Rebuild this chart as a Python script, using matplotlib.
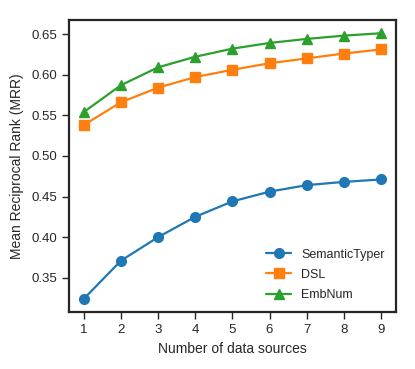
import matplotlib
matplotlib.use("Agg")
import matplotlib.pyplot as plt
import seaborn as sns

n_sources = [1, 2, 3, 4, 5, 6, 7, 8, 9]
semantic_typer = [0.324, 0.371, 0.400, 0.425, 0.444, 0.456, 0.464, 0.468, 0.471]
dsl = [0.538, 0.566, 0.584, 0.597, 0.606, 0.614, 0.620, 0.626, 0.631]
embnum = [0.554, 0.587, 0.609, 0.622, 0.632, 0.639, 0.644, 0.648, 0.651]

sns.set_style("ticks")
plt.rcParams["font.family"] = ["Liberation Sans", "DejaVu Sans"]

fig, ax = plt.subplots(figsize=(4.15, 3.69), dpi=100)
ax.plot(n_sources, semantic_typer, "o-", color="#1f77b4", markersize=7, linewidth=1.6, label="SemanticTyper")
ax.plot(n_sources, dsl, "s-", color="#ff7f0e", markersize=7, linewidth=1.6, label="DSL")
ax.plot(n_sources, embnum, "^-", color="#2ca02c", markersize=7, linewidth=1.6, label="EmbNum")

ax.set_xticks(n_sources)
ax.set_xlabel("Number of data sources", fontsize=10)
ax.set_ylabel("Mean Reciprocal Rank (MRR)", fontsize=10, labelpad=5)
ax.tick_params(labelsize=9.5, length=5, width=1, color="#262626")
for sp in ax.spines.values():
    sp.set_linewidth(1.6)
    sp.set_color("#262626")
ax.legend(loc="lower right", frameon=False, fontsize=9, labelspacing=0.65)

fig.subplots_adjust(left=0.166, right=0.954, top=0.946, bottom=0.154)
fig.savefig("out.png", dpi=100)
